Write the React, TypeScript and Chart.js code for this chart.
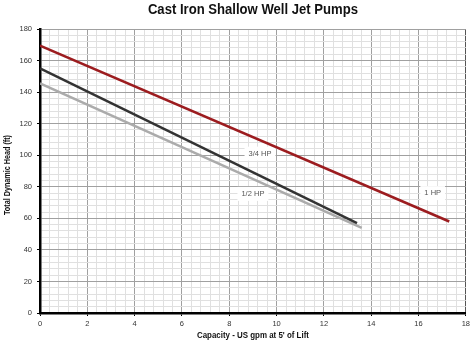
import React, { useEffect, useRef } from "react";
import { Chart, registerables } from "chart.js";

Chart.register(...registerables);

const seriesNames = ["1 HP", "3/4 HP", "1/2 HP"];
const seriesColors = ["#9c1c1f", "#333333", "#ababab"];
const oneHpX = [0, 17.3];
const oneHpY = [169.5, 58];
const threeQuarterHpX = [0, 13.4];
const threeQuarterHpY = [155, 57];
const halfHpX = [0, 13.6];
const halfHpY = [145.5, 54];

const labelTexts = ["3/4 HP", "1/2 HP", "1 HP"];
const labelX = [9.3, 9.0, 16.6];
const labelY = [101, 75.5, 76];

const chartTitle = "Cast Iron Shallow Well Jet Pumps";
const xTitle = "Capacity - US gpm at 5' of Lift";
const yTitle = "Total Dynamic Head (ft)";

const xTickMax = 18;
const yTickMax = 180;

const BOLDFONT = "'Liberation Sans', Arial, sans-serif";
const TICKFONT = "'Liberation Sans', Arial, sans-serif";

function isMultiple(v: number, m: number) {
  const r = v / m;
  return Math.abs(r - Math.round(r)) < 1e-6;
}

function drawFitted(ctx: any, text: string, cx: number, cy: number, font: string, width: number, rot: number) {
  ctx.save();
  ctx.font = font;
  ctx.fillStyle = "#111";
  ctx.textAlign = "center";
  ctx.textBaseline = "middle";
  const w = ctx.measureText(text).width;
  ctx.translate(cx, cy);
  ctx.rotate(rot);
  ctx.scale(width / w, 1);
  ctx.fillText(text, 0, 0);
  ctx.restore();
}

const titlesPlugin = {
  id: "condensedTitles",
  afterDraw(chart: any) {
    const { ctx, chartArea } = chart;
    const cx = (chartArea.left + chartArea.right) / 2;
    drawFitted(ctx, chartTitle, cx, 10.5, `bold 14px ${BOLDFONT}`, 210, 0);
    drawFitted(ctx, xTitle, cx, 335, `bold 9.5px ${BOLDFONT}`, 112, 0);
    drawFitted(ctx, yTitle, 7.5, 175, `bold 9.5px ${BOLDFONT}`, 80, -Math.PI / 2);
  },
};

const labelPlugin = {
  id: "curveLabels",
  beforeDatasetsDraw(chart: any) {
    const { ctx, scales } = chart;
    ctx.save();
    ctx.font = `7.5px ${TICKFONT}`;
    ctx.textAlign = "center";
    ctx.textBaseline = "middle";
    labelTexts.forEach((t, i) => {
      const px = scales.x.getPixelForValue(labelX[i]);
      const py = scales.y.getPixelForValue(labelY[i]);
      const w = ctx.measureText(t).width + 8;
      ctx.fillStyle = "#ffffff";
      ctx.fillRect(px - w / 2, py - 7, w, 14);
      ctx.fillStyle = "#555555";
      ctx.fillText(t, px, py);
    });
    ctx.restore();
  },
};

function toPoints(xs: number[], ys: number[]) {
  return xs.map((x, i) => ({ x, y: ys[i] }));
}

export default function App() {
  const ref = useRef<HTMLCanvasElement>(null);
  useEffect(() => {
    if (!ref.current) return;
    const dataXs = [oneHpX, threeQuarterHpX, halfHpX];
    const dataYs = [oneHpY, threeQuarterHpY, halfHpY];
    const chart = new Chart(ref.current, {
      type: "line",
      data: {
        datasets: seriesNames.map((name, i) => ({
          label: name,
          data: toPoints(dataXs[i], dataYs[i]),
          borderColor: seriesColors[i],
          backgroundColor: seriesColors[i],
          borderWidth: 2.5,
          pointRadius: 0,
          fill: false,
          tension: 0,
        })),
      },
      plugins: [labelPlugin, titlesPlugin],
      options: {
        animation: false,
        responsive: true,
        maintainAspectRatio: false,
        layout: { padding: { left: 0, right: 7, top: 29, bottom: 0 } },
        plugins: {
          legend: { display: false },
          tooltip: { enabled: false },
          title: { display: false },
        },
        scales: {
          x: {
            type: "linear",
            min: 0,
            max: xTickMax,
            afterFit(scale: any) {
              scale.height = 30;
            },
            border: { color: "#000", width: 2.5 },
            grid: {
              color: (c: any) => {
                const v = c.tick ? c.tick.value : 0;
                if (Math.abs(v - xTickMax) < 1e-6) return "#555";
                return isMultiple(v, 2) ? "#a0a0a0" : "#e0e0e0";
              },
              lineWidth: 1,
              tickLength: 3,
              tickColor: (c: any) => (c.tick && isMultiple(c.tick.value, 2) ? "#000" : "rgba(0,0,0,0)"),
            },
            ticks: {
              stepSize: 0.4,
              autoSkip: false,
              maxRotation: 0,
              padding: 3,
              color: "#333",
              font: { family: TICKFONT, size: 7.5 },
              callback: (v: any) => (isMultiple(Number(v), 2) ? String(Math.round(Number(v))) : ""),
            },
          },
          y: {
            type: "linear",
            min: 0,
            max: yTickMax,
            afterFit(scale: any) {
              scale.width = 40;
            },
            border: { color: "#000", width: 2.5 },
            grid: {
              color: (c: any) => {
                const v = c.tick ? c.tick.value : 0;
                return isMultiple(v, 20) ? "#a0a0a0" : "#e0e0e0";
              },
              lineWidth: 1,
              tickLength: 3,
              tickColor: (c: any) => (c.tick && isMultiple(c.tick.value, 20) ? "#000" : "rgba(0,0,0,0)"),
            },
            ticks: {
              stepSize: 4,
              autoSkip: false,
              padding: 5,
              color: "#333",
              font: { family: TICKFONT, size: 7.5 },
              callback: (v: any) => (isMultiple(Number(v), 20) ? String(Math.round(Number(v))) : ""),
            },
          },
        },
      },
    });
    return () => chart.destroy();
  }, []);
  return (
    <div style={{ position: "fixed", left: 0, top: 0, width: 473, height: 343, background: "#fff" }}>
      <canvas ref={ref} />
    </div>
  );
}
